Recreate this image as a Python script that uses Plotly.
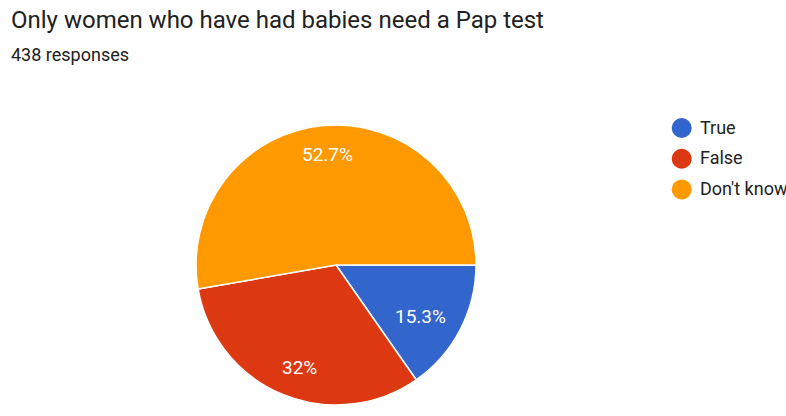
import math
import plotly.graph_objects as go

# Survey answers for: "Only women who have had babies need a Pap test"
categories = ["True", "False", "Don't know"]
responses = [67, 140, 231]
colors = ["#3366cc", "#dc3912", "#ff9900"]
title_text = "Only women who have had babies need a Pap test"
subtitle_text = f"{sum(responses)} responses"

W, H = 786, 416
pie_x = [0.2494, 0.6056]
pie_y = [0.0264, 0.6995]

fig = go.Figure()

fig.add_trace(go.Pie(
    labels=categories,
    values=responses,
    sort=False,
    direction="clockwise",
    rotation=90,
    marker=dict(colors=colors, line=dict(color="white", width=1.5)),
    textinfo="none",
    showlegend=False,
    hoverinfo="label+value+percent",
    domain=dict(x=pie_x, y=pie_y),
))

# Percentage labels placed along each slice's mid-angle
total = sum(responses)
cx = (pie_x[0] + pie_x[1]) / 2 * W
cy = (1 - (pie_y[0] + pie_y[1]) / 2) * H
radius = min((pie_x[1] - pie_x[0]) * W, (pie_y[1] - pie_y[0]) * H) / 2
label_rx, label_ry = 0.68 * radius, 0.79 * radius
start = 0.0
for v in responses:
    share = v / total
    mid = math.radians((start + share / 2) * 360)  # clockwise from 3 o'clock
    start += share
    px = cx + label_rx * math.cos(mid)
    py = cy + label_ry * math.sin(mid)
    fig.add_annotation(
        text=f"{share * 100:.3g}%", x=px / W, y=1 - py / H,
        xref="paper", yref="paper", xanchor="center", yanchor="middle",
        showarrow=False, font=dict(family="Roboto", size=19, color="white"),
    )

# Legend: round swatches with labels, running off the right edge
legend_x, legend_y0, legend_step, dot_d = 681.7, 128, 30.7, 20
for i, (name, col) in enumerate(zip(categories, colors)):
    yc = legend_y0 + i * legend_step
    fig.add_shape(
        type="circle", xref="paper", yref="paper",
        x0=(legend_x - dot_d / 2) / W, x1=(legend_x + dot_d / 2) / W,
        y0=1 - (yc + dot_d / 2) / H, y1=1 - (yc - dot_d / 2) / H,
        fillcolor=col, line=dict(width=0),
    )
    fig.add_annotation(
        text=name, x=(legend_x + 16.5) / W, y=1 - (yc - 1) / H,
        xref="paper", yref="paper", xanchor="left", yanchor="middle",
        showarrow=False, font=dict(family="Roboto", size=18, color="#222222"),
    )

fig.update_layout(
    width=W, height=H,
    margin=dict(l=0, r=0, t=0, b=0),
    paper_bgcolor="white", plot_bgcolor="white",
    font=dict(family="Roboto", color="#212121"),
    showlegend=False,
)

# Title and subtitle
fig.add_annotation(text=title_text, x=9 / W, y=1 - 20 / H,
                   xref="paper", yref="paper", xanchor="left", yanchor="middle",
                   showarrow=False,
                   font=dict(family="Roboto", size=24, color="#212121"))
fig.add_annotation(text=subtitle_text, x=9 / W, y=1 - 55 / H,
                   xref="paper", yref="paper", xanchor="left", yanchor="middle",
                   showarrow=False,
                   font=dict(family="Roboto", size=18, color="#212121"))

fig.write_html("out.html")
